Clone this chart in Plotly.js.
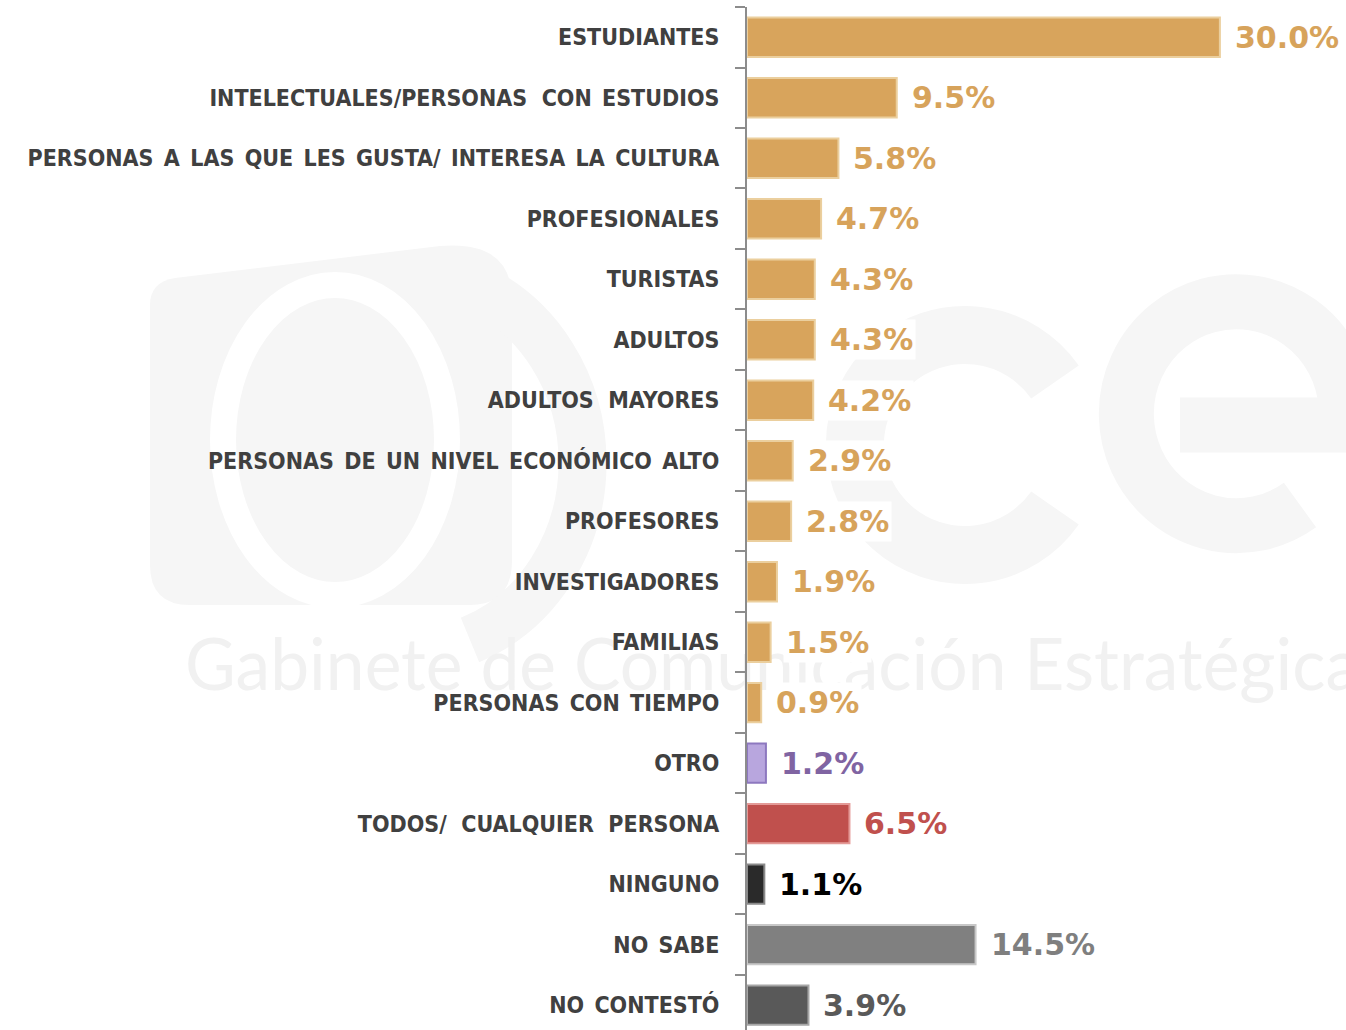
<!DOCTYPE html>
<html>
<head>
<meta charset="utf-8">
<script src="https://cdn.plot.ly/plotly-3.0.1.min.js"></script>
<style>
html,body{margin:0;padding:0;overflow:hidden;background:#fff;}
#chart{width:1346px;height:1030px;}
</style>
</head>
<body>
<div id="chart"></div>
<script>
// ---- data ----
const categories = [
  "ESTUDIANTES",
  "INTELECTUALES/PERSONAS  CON ESTUDIOS",
  "PERSONAS A LAS QUE LES GUSTA/ INTERESA LA CULTURA",
  "PROFESIONALES",
  "TURISTAS",
  "ADULTOS",
  "ADULTOS  MAYORES",
  "PERSONAS DE UN NIVEL ECONÓMICO ALTO",
  "PROFESORES",
  "INVESTIGADORES",
  "FAMILIAS",
  "PERSONAS CON TIEMPO",
  "OTRO",
  "TODOS/  CUALQUIER  PERSONA",
  "NINGUNO",
  "NO SABE",
  "NO CONTESTÓ"
];
const values = [30.0, 9.5, 5.8, 4.7, 4.3, 4.3, 4.2, 2.9, 2.8, 1.9, 1.5, 0.9, 1.2, 6.5, 1.1, 14.5, 3.9];
const groups = ["g","g","g","g","g","g","g","g","g","g","g","g","otro","todos","ninguno","nosabe","nocontesto"];

// ---- styles ----
const fillByGroup = {g:"#D8A45C", otro:"#B8A6DE", todos:"#C0504D", ninguno:"#2a2a2a", nosabe:"#808080", nocontesto:"#595959"};
const lineByGroup = {g:"#EBCF9E", otro:"#8D78BF", todos:"#E49A97", ninguno:"#8a8a8a", nosabe:"#C8C8C8", nocontesto:"#A6A6A6"};
const textByGroup = {g:"#D7A35B", otro:"#8064A2", todos:"#C0504D", ninguno:"#000000", nosabe:"#7F7F7F", nocontesto:"#595959"};

// wider word spacing, as in the original typeface
const labels = categories.map(c => c.replace(/  /g, "\u2002\u2009").replace(/ /g, "\u2002"));

const trace = {
  type: "bar",
  orientation: "h",
  y: labels,
  x: values,
  width: 0.65,
  marker: {
    color: groups.map(g => fillByGroup[g]),
    line: {color: groups.map(g => lineByGroup[g]), width: 2}
  },
  hoverinfo: "skip"
};

const annotations = values.map((v, i) => ({
  x: v, y: labels[i], xref: "x", yref: "y",
  text: v.toFixed(1) + "%",
  showarrow: false,
  xanchor: "left", yanchor: "middle",
  xshift: 12, yshift: 0,
  bgcolor: "#ffffff",
  borderpad: 2,
  font: {family: "DejaVu Sans, sans-serif", size: 30, weight: "bold", color: textByGroup[groups[i]]}
}));

const layout = {
  width: 1346, height: 1030,
  margin: {l: 747, r: 0, t: 7, b: 0, pad: 0},
  paper_bgcolor: "rgba(0,0,0,0)",
  plot_bgcolor: "rgba(0,0,0,0)",
  showlegend: false,
  xaxis: {range: [0, 38], visible: false, fixedrange: true},
  yaxis: {
    type: "category",
    range: [16.41, -0.5],
    showline: true, linecolor: "#8C8C8C", linewidth: 2,
    ticks: "outside", tickson: "boundaries", ticklen: 10, tickcolor: "#8C8C8C", tickwidth: 2,
    ticklabelstandoff: 21,
    showgrid: false, zeroline: false,
    tickfont: {family: "DejaVu Sans Condensed, DejaVu Sans, sans-serif", size: 23, weight: "bold", color: "#404040"},
    fixedrange: true
  },
  annotations: annotations
};

// faint watermark behind the chart
const wm = `<svg xmlns='http://www.w3.org/2000/svg' width='1346' height='1030'>
<path d='M150 305 Q150 282 175 278 L440 246 Q512 240 512 300 L512 560 Q512 605 470 605 L190 605 Q150 605 150 565 Z' fill='#f6f6f6'/>
<ellipse cx='335' cy='440' rx='112' ry='155' fill='none' stroke='#ffffff' stroke-width='26'/>
<path d='M470 285 A175 190 0 0 1 470 640' fill='none' stroke='#f6f6f6' stroke-width='48'/>
<path d='M1055 382 A110 110 0 1 0 1055 508' fill='none' stroke='#f6f6f6' stroke-width='58'/>
<path d='M1180 425 L1346 425 L1346 405 A110 112 0 1 0 1300 505' fill='none' stroke='#f6f6f6' stroke-width='55'/>
<text x='185' y='690' font-family='Lato, sans-serif' font-size='72' fill='#f1f1f1' textLength='1175' lengthAdjust='spacingAndGlyphs'>Gabinete de  Comunicación  Estratégica</text>
</svg>`;
document.getElementById("chart").style.background =
  "#fff url(\"data:image/svg+xml;charset=utf-8," + encodeURIComponent(wm) + "\") no-repeat 0 0";

Plotly.newPlot("chart", [trace], layout, {displayModeBar: false, staticPlot: true});
</script>
</body>
</html>
